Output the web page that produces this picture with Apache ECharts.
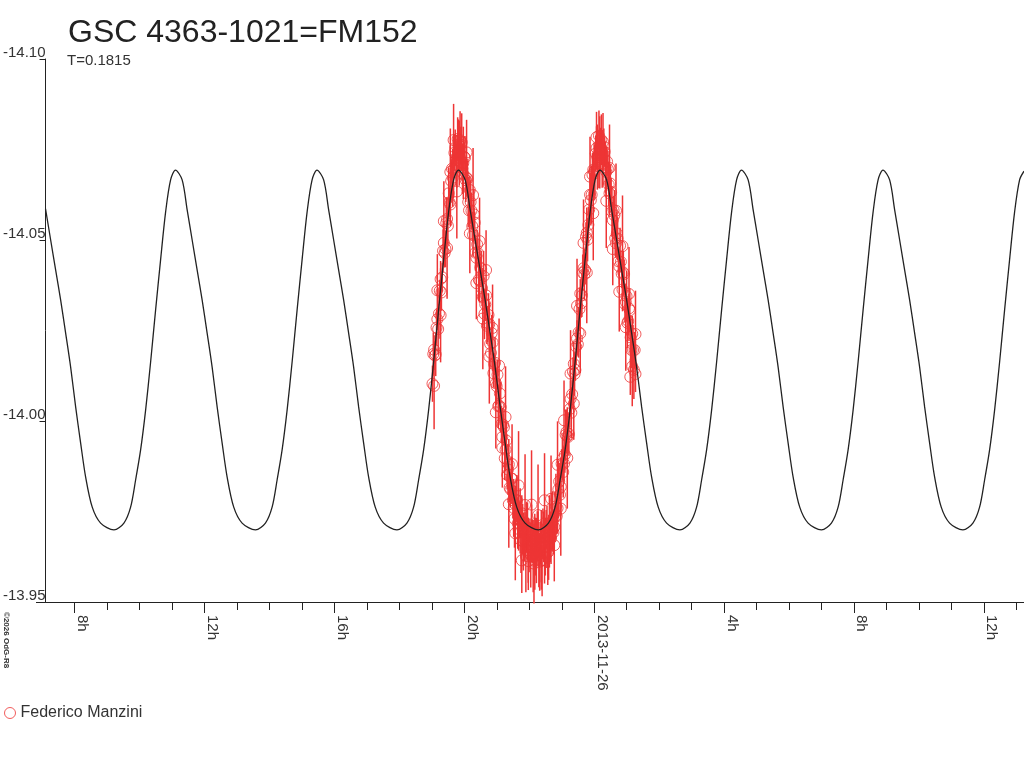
<!DOCTYPE html>
<html lang="en">
<head>
<meta charset="UTF-8">
<title>GSC 4363-1021=FM152</title>
<script type="text/javascript" src="https://cdn.jsdelivr.net/npm/echarts@6.0.0/dist/echarts.min.js"></script>
<style>html,body{margin:0;padding:0;background:#fff;}</style>
</head>
<body>
<div id="lightCurve" style="width:1024px;height:768px;background:#fff;"></div>

<script type="text/javascript">
    // time is in hours counted from 2013-11-25 00:00
    var hourMin = 7.108, hourMax = 37.23;
    var magMin = -14.10, magMax = -13.95, magStep = 0.05;
    var hourTicks = [8, 9, 10, 11, 12, 13, 14, 15, 16, 17, 18, 19, 20, 21, 22, 23, 24,
        25, 26, 27, 28, 29, 30, 31, 32, 33, 34, 35, 36, 37];
    var labelHours = [8, 12, 16, 20, 24, 28, 32, 36];
    var dayLabel = '2013-11-26';
    var observer = 'Federico Manzini';

    // fitted light curve, one row per cycle
    var fitHours = [
        7.108, 7.266, 7.420, 7.574, 7.727, 7.881, 8.035, 8.189, 8.343, 8.546, 8.804, 9.214,
        9.521, 9.727, 9.881, 10.035, 10.189, 10.343, 10.497, 10.650, 10.804, 10.958,
        11.108, 11.314, 11.468, 11.622, 11.776, 11.930, 12.083, 12.237, 12.391, 12.545, 12.699, 12.902,
        13.160, 13.570, 13.877, 14.083, 14.237, 14.391, 14.545, 14.699, 14.853, 15.006, 15.160, 15.314,
        15.464, 15.670, 15.824, 15.978, 16.132, 16.286, 16.439, 16.593, 16.747, 16.901, 17.055, 17.258,
        17.516, 17.926, 18.233, 18.439, 18.593, 18.747, 18.901, 19.055, 19.209, 19.362, 19.516, 19.670,
        19.820, 20.026, 20.180, 20.334, 20.488, 20.642, 20.795, 20.949, 21.103, 21.257, 21.411, 21.614,
        21.872, 22.282, 22.589, 22.795, 22.949, 23.103, 23.257, 23.411, 23.565, 23.718, 23.872, 24.026,
        24.176, 24.382, 24.536, 24.690, 24.844, 24.998, 25.151, 25.305, 25.459, 25.613, 25.767, 25.970,
        26.228, 26.638, 26.945, 27.151, 27.305, 27.459, 27.613, 27.767, 27.921, 28.074, 28.228, 28.382,
        28.532, 28.738, 28.892, 29.046, 29.200, 29.354, 29.507, 29.661, 29.815, 29.969, 30.123, 30.326,
        30.584, 30.994, 31.301, 31.507, 31.661, 31.815, 31.969, 32.123, 32.277, 32.430, 32.584, 32.738,
        32.888, 33.094, 33.248, 33.402, 33.556, 33.710, 33.863, 34.017, 34.171, 34.325, 34.479, 34.682,
        34.940, 35.350, 35.657, 35.863, 36.017, 36.171, 36.325, 36.479, 36.633, 36.786, 36.940, 37.094,
        37.230
    ];
    var fitMags = [
        -14.0586, -14.0500, -14.0417, -14.0334, -14.0243, -14.0149, -14.0039, -13.9939, -13.9845, -13.9762, -13.9718, -13.9699,
        -13.9718, -13.9762, -13.9837, -13.9920, -14.0030, -14.0163, -14.0307, -14.0445, -14.0577, -14.0666,
        -14.0693, -14.0666, -14.0583, -14.0500, -14.0417, -14.0334, -14.0243, -14.0149, -14.0039, -13.9939, -13.9845, -13.9762,
        -13.9718, -13.9699, -13.9718, -13.9762, -13.9837, -13.9920, -14.0030, -14.0163, -14.0307, -14.0445, -14.0577, -14.0666,
        -14.0693, -14.0666, -14.0583, -14.0500, -14.0417, -14.0334, -14.0243, -14.0149, -14.0039, -13.9939, -13.9845, -13.9762,
        -13.9718, -13.9699, -13.9718, -13.9762, -13.9837, -13.9920, -14.0030, -14.0163, -14.0307, -14.0445, -14.0577, -14.0666,
        -14.0693, -14.0666, -14.0583, -14.0500, -14.0417, -14.0334, -14.0243, -14.0149, -14.0039, -13.9939, -13.9845, -13.9762,
        -13.9718, -13.9699, -13.9718, -13.9762, -13.9837, -13.9920, -14.0030, -14.0163, -14.0307, -14.0445, -14.0577, -14.0666,
        -14.0693, -14.0666, -14.0583, -14.0500, -14.0417, -14.0334, -14.0243, -14.0149, -14.0039, -13.9939, -13.9845, -13.9762,
        -13.9718, -13.9699, -13.9718, -13.9762, -13.9837, -13.9920, -14.0030, -14.0163, -14.0307, -14.0445, -14.0577, -14.0666,
        -14.0693, -14.0666, -14.0583, -14.0500, -14.0417, -14.0334, -14.0243, -14.0149, -14.0039, -13.9939, -13.9845, -13.9762,
        -13.9718, -13.9699, -13.9718, -13.9762, -13.9837, -13.9920, -14.0030, -14.0163, -14.0307, -14.0445, -14.0577, -14.0666,
        -14.0693, -14.0666, -14.0583, -14.0500, -14.0417, -14.0334, -14.0243, -14.0149, -14.0039, -13.9939, -13.9845, -13.9762,
        -13.9718, -13.9699, -13.9718, -13.9762, -13.9837, -13.9920, -14.0030, -14.0163, -14.0307, -14.0445, -14.0577, -14.0666,
        -14.0690
    ];

    // measurements, [hour, mag, error]
    var observations = [
        [19.02, -14.0103, 0.005], [19.07, -14.0197, 0.004], [19.12, -14.0184, 0.006], [19.17, -14.0281, 0.003],
        [19.22, -14.0297, 0.007], [19.27, -14.0392, 0.005], [19.32, -14.0397, 0.004], [19.37, -14.0492, 0.006],
        [19.42, -14.0475, 0.005], [19.47, -14.0558, 0.003], [19.52, -14.0629, 0.007], [19.57, -14.0598, 0.006],
        [19.62, -14.0697, 0.004], [19.67, -14.0696, 0.008], [19.72, -14.0755, 0.005], [19.77, -14.0704, 0.006],
        [19.82, -14.0763, 0.007], [19.87, -14.0726, 0.005], [19.92, -14.0770, 0.008], [19.97, -14.0683, 0.004],
        [20.02, -14.0727, 0.006], [20.07, -14.0672, 0.005], [20.12, -14.0605, 0.007], [20.17, -14.0638, 0.004],
        [20.22, -14.0581, 0.005], [20.27, -14.0514, 0.006], [20.32, -14.0548, 0.003], [20.37, -14.0451, 0.005],
        [20.42, -14.0464, 0.004], [20.47, -14.0387, 0.006], [20.52, -14.0420, 0.005], [20.57, -14.0343, 0.004],
        [20.62, -14.0296, 0.007], [20.67, -14.0347, 0.003], [20.72, -14.0268, 0.005], [20.77, -14.0268, 0.006],
        [20.82, -14.0188, 0.004], [20.87, -14.0217, 0.005], [20.92, -14.0157, 0.003], [20.97, -14.0104, 0.006],
        [21.02, -14.0128, 0.004], [21.07, -14.0043, 0.005], [21.12, -14.0038, 0.007], [21.17, -13.9956, 0.004],
        [21.22, -13.9983, 0.005], [21.27, -13.9921, 0.006], [21.32, -13.9851, 0.004], [21.37, -13.9880, 0.007],
        [21.42, -13.9811, 0.005], [21.47, -13.9841, 0.006], [21.52, -13.9760, 0.008], [21.57, -13.9770, 0.005],
        [21.62, -13.9781, 0.007], [21.67, -13.9702, 0.006], [21.72, -13.9724, 0.009], [21.77, -13.9745, 0.005],
        [21.82, -13.9667, 0.008], [21.87, -13.9688, 0.006], [21.92, -13.9706, 0.007], [21.97, -13.9643, 0.009],
        [22.02, -13.9671, 0.006], [22.07, -13.9689, 0.008], [22.12, -13.9627, 0.010], [22.17, -13.9674, 0.007],
        [22.22, -13.9642, 0.009], [22.27, -13.9690, 0.006], [22.32, -13.9611, 0.008], [22.37, -13.9654, 0.010],
        [22.42, -13.9688, 0.007], [22.47, -13.9641, 0.009], [22.52, -13.9674, 0.008], [22.57, -13.9637, 0.006],
        [22.62, -13.9695, 0.010], [22.67, -13.9675, 0.007], [22.72, -13.9726, 0.008], [22.77, -13.9707, 0.006],
        [22.82, -13.9764, 0.009], [22.87, -13.9759, 0.007], [22.92, -13.9833, 0.005], [22.97, -13.9818, 0.008],
        [23.02, -13.9895, 0.006], [23.07, -13.9882, 0.005], [23.12, -13.9962, 0.007], [23.17, -13.9958, 0.004],
        [23.22, -13.9964, 0.006], [23.27, -14.0061, 0.005], [23.32, -14.0074, 0.004], [23.37, -14.0158, 0.006],
        [23.42, -14.0141, 0.003], [23.47, -14.0228, 0.005], [23.52, -14.0245, 0.007], [23.57, -14.0352, 0.004],
        [23.62, -14.0347, 0.006], [23.67, -14.0422, 0.005], [23.72, -14.0417, 0.004], [23.77, -14.0520, 0.007],
        [23.82, -14.0542, 0.005], [23.87, -14.0625, 0.006], [23.92, -14.0625, 0.008], [23.97, -14.0694, 0.005],
        [24.02, -14.0693, 0.007], [24.07, -14.0754, 0.006], [24.12, -14.0723, 0.008], [24.17, -14.0752, 0.005],
        [24.22, -14.0777, 0.007], [24.27, -14.0711, 0.006], [24.32, -14.0744, 0.004], [24.37, -14.0688, 0.007],
        [24.42, -14.0696, 0.005], [24.47, -14.0629, 0.006], [24.52, -14.0632, 0.004], [24.57, -14.0555, 0.005],
        [24.62, -14.0568, 0.007], [24.67, -14.0491, 0.004], [24.72, -14.0504, 0.006], [24.77, -14.0427, 0.005],
        [24.82, -14.0440, 0.003], [24.87, -14.0363, 0.006], [24.92, -14.0406, 0.004], [24.97, -14.0329, 0.005],
        [25.02, -14.0271, 0.007], [25.07, -14.0311, 0.004], [25.11, -14.0122, 0.005], [25.12, -14.0231, 0.006],
        [25.17, -14.0241, 0.005], [25.22, -14.0141, 0.008], [25.27, -14.0130, 0.005],
        [19.045, -14.0185, 0.006], [19.095, -14.0181, 0.004], [19.145, -14.0258, 0.005], [19.195, -14.0254, 0.007],
        [19.245, -14.0360, 0.003], [19.295, -14.0355, 0.005], [19.345, -14.0470, 0.006], [19.395, -14.0464, 0.004],
        [19.445, -14.0547, 0.007], [19.495, -14.0539, 0.005], [19.545, -14.0604, 0.004], [19.595, -14.0663, 0.006],
        [19.645, -14.0672, 0.008], [19.695, -14.0741, 0.005], [19.745, -14.0720, 0.007], [19.795, -14.0779, 0.006],
        [19.845, -14.0740, 0.009], [19.895, -14.0763, 0.005], [19.945, -14.0697, 0.007], [19.995, -14.0730, 0.004],
        [20.045, -14.0665, 0.006], [20.095, -14.0669, 0.005], [20.145, -14.0582, 0.003], [20.195, -14.0605, 0.006],
        [20.245, -14.0538, 0.004], [20.295, -14.0571, 0.007], [20.345, -14.0465, 0.005], [20.395, -14.0488, 0.004],
        [20.445, -14.0391, 0.006], [20.495, -14.0424, 0.003], [20.545, -14.0367, 0.005], [20.595, -14.0400, 0.007],
        [20.645, -14.0322, 0.004], [20.695, -14.0263, 0.005], [20.745, -14.0293, 0.006], [20.795, -14.0213, 0.003],
        [20.845, -14.0243, 0.005], [20.895, -14.0132, 0.004], [20.945, -14.0161, 0.007], [20.995, -14.0096, 0.005],
        [21.045, -14.0041, 0.006], [21.095, -14.0076, 0.004], [21.145, -13.9992, 0.005], [21.195, -13.9990, 0.003],
        [21.245, -13.9897, 0.006], [21.295, -13.9946, 0.005], [21.345, -13.9866, 0.007], [21.395, -13.9816, 0.004],
        [21.445, -13.9841, 0.006], [21.495, -13.9781, 0.005], [21.545, -13.9730, 0.008], [21.595, -13.9781, 0.006],
        [21.645, -13.9717, 0.007], [21.695, -13.9728, 0.005], [21.745, -13.9670, 0.009], [21.795, -13.9701, 0.007],
        [21.845, -13.9673, 0.006], [21.895, -13.9627, 0.010], [21.945, -13.9695, 0.008], [21.995, -13.9652, 0.007],
        [22.045, -13.9630, 0.009], [22.095, -13.9668, 0.006], [22.145, -13.9606, 0.011], [22.195, -13.9653, 0.008],
        [22.245, -13.9681, 0.007], [22.295, -13.9631, 0.009], [22.345, -13.9663, 0.006], [22.395, -13.9616, 0.010],
        [22.445, -13.9680, 0.007], [22.495, -13.9653, 0.008], [22.545, -13.9706, 0.006], [22.595, -13.9651, 0.009],
        [22.645, -13.9680, 0.007], [22.695, -13.9721, 0.008], [22.745, -13.9692, 0.006], [22.795, -13.9736, 0.007],
        [22.845, -13.9737, 0.005], [22.895, -13.9811, 0.008], [22.945, -13.9796, 0.006], [22.995, -13.9882, 0.004],
        [23.045, -13.9859, 0.007], [23.095, -13.9907, 0.005], [23.145, -13.9970, 0.006], [23.195, -13.9956, 0.004],
        [23.245, -14.0033, 0.005], [23.295, -14.0023, 0.007], [23.345, -14.0136, 0.004], [23.395, -14.0130, 0.006],
        [23.445, -14.0205, 0.005], [23.495, -14.0212, 0.003], [23.545, -14.0309, 0.006], [23.595, -14.0325, 0.004],
        [23.645, -14.0410, 0.005], [23.695, -14.0405, 0.007], [23.745, -14.0509, 0.004], [23.795, -14.0501, 0.006],
        [23.845, -14.0584, 0.005], [23.895, -14.0610, 0.007], [23.945, -14.0680, 0.006], [23.995, -14.0689, 0.008],
        [24.045, -14.0739, 0.005], [24.095, -14.0729, 0.009], [24.145, -14.0788, 0.007], [24.195, -14.0750, 0.006],
        [24.245, -14.0724, 0.008], [24.295, -14.0758, 0.005], [24.345, -14.0701, 0.007], [24.395, -14.0717, 0.004],
        [24.445, -14.0653, 0.006], [24.495, -14.0656, 0.005], [24.545, -14.0579, 0.007], [24.595, -14.0582, 0.004],
        [24.645, -14.0505, 0.005], [24.695, -14.0518, 0.006], [24.745, -14.0441, 0.003], [24.795, -14.0484, 0.005],
        [24.845, -14.0407, 0.004], [24.895, -14.0410, 0.006], [24.945, -14.0323, 0.005], [24.995, -14.0345, 0.007],
        [25.045, -14.0276, 0.004], [25.095, -14.0306, 0.006], [25.145, -14.0196, 0.005], [25.195, -14.0196, 0.007],
        [25.245, -14.0196, 0.005],
        [19.07, -14.0097, 0.012], [19.17, -14.0361, 0.010], [19.27, -14.0292, 0.013], [19.37, -14.0552, 0.011],
        [19.47, -14.0478, 0.014], [19.57, -14.0688, 0.012], [19.67, -14.0776, 0.010], [19.77, -14.0634, 0.013],
        [19.87, -14.0776, 0.008], [19.97, -14.0713, 0.010], [20.07, -14.0742, 0.009], [20.17, -14.0518, 0.011],
        [20.27, -14.0624, 0.013], [20.37, -14.0381, 0.010], [20.47, -14.0497, 0.012], [20.57, -14.0283, 0.014],
        [20.67, -14.0417, 0.011], [20.77, -14.0178, 0.013], [20.87, -14.0257, 0.012], [20.97, -14.0024, 0.010],
        [21.07, -14.0153, 0.013], [21.17, -13.9926, 0.011], [21.27, -14.0011, 0.014], [21.37, -13.9770, 0.012],
        [21.47, -13.9881, 0.011], [21.57, -13.9690, 0.013], [21.67, -13.9822, 0.015], [21.77, -13.9615, 0.009],
        [21.87, -13.9768, 0.014], [21.97, -13.9613, 0.008], [22.07, -13.9769, 0.015], [22.17, -13.9614, 0.008],
        [22.27, -13.9740, 0.014], [22.37, -13.9614, 0.008], [22.47, -13.9781, 0.013], [22.57, -13.9637, 0.009],
        [22.67, -13.9785, 0.012], [22.77, -13.9657, 0.010], [22.87, -13.9879, 0.012], [22.97, -13.9758, 0.013],
        [23.07, -14.0002, 0.011], [23.17, -13.9898, 0.014], [23.27, -14.0131, 0.012], [23.37, -14.0048, 0.010],
        [23.47, -14.0318, 0.013], [23.57, -14.0242, 0.011], [23.67, -14.0492, 0.012], [23.77, -14.0410, 0.014],
        [23.87, -14.0675, 0.011], [23.97, -14.0574, 0.013], [24.07, -14.0784, 0.007], [24.17, -14.0742, 0.010],
        [24.27, -14.0771, 0.008], [24.37, -14.0608, 0.013], [24.47, -14.0699, 0.012], [24.57, -14.0475, 0.010],
        [24.67, -14.0581, 0.013], [24.77, -14.0357, 0.011], [24.87, -14.0483, 0.014], [24.97, -14.0259, 0.012],
        [25.07, -14.0351, 0.013], [25.17, -14.0151, 0.011], [25.27, -14.0240, 0.012]
    ];

    var fitCurve = [];
    for (var i = 0; i < fitHours.length; i++) {
        fitCurve.push([fitHours[i], fitMags[i]]);
    }

    var red = '#ee3535';
    var chart = echarts.init(document.getElementById('lightCurve'));

    var hourLabel = function (v) {
        var h = Math.round(v) % 24;
        return h === 0 ? dayLabel : h + 'h';
    };

    var option = {
        animation: false,
        backgroundColor: '#fff',
        textStyle: {fontFamily: 'Liberation Sans, Arial, sans-serif'},
        title: [
            {text: 'GSC 4363-1021=FM152', left: 63, top: 12,
                textStyle: {fontSize: 32, fontWeight: 'normal', color: '#222'}},
            {text: 'T=0.1815', left: 62, top: 48,
                textStyle: {fontSize: 15, fontWeight: 'normal', color: '#333'}}
        ],
        legend: {
            data: [observer],
            left: 4, top: 705, padding: 0,
            icon: 'circle', itemWidth: 11, itemHeight: 11,
            itemStyle: {borderWidth: 1},
            textStyle: {fontSize: 16, color: '#333'}
        },
        grid: {left: 45, right: 0, top: 59, bottom: 166, containLabel: false},
        xAxis: [
            {
                type: 'value', min: hourMin, max: hourMax, position: 'bottom',
                axisLine: {lineStyle: {color: '#222', width: 1}},
                axisTick: {customValues: hourTicks, length: 8, lineStyle: {color: '#222'}},
                axisLabel: {customValues: labelHours, formatter: hourLabel, rotate: -90,
                    align: 'left', verticalAlign: 'bottom', margin: 13,
                    fontSize: 15, color: '#333'},
                splitLine: {show: false}
            },
            {
                // longer ticks every 4 hours
                type: 'value', min: hourMin, max: hourMax, position: 'bottom',
                axisLine: {show: false},
                axisTick: {customValues: labelHours, length: 11, lineStyle: {color: '#222'}},
                axisLabel: {show: false},
                splitLine: {show: false}
            }
        ],
        yAxis: {
            type: 'value', inverse: true, min: magMin, max: magMax, interval: magStep,
            axisLine: {show: true, lineStyle: {color: '#222', width: 1}},
            axisTick: {show: true, length: 6, lineStyle: {color: '#222'}},
            axisLabel: {formatter: function (v) { return v.toFixed(2); },
                margin: 0, verticalAlign: 'bottom', lineHeight: 12, fontSize: 15, color: '#333'},
            splitLine: {show: false}
        },
        graphic: [
            {type: 'text', x: 2, y: 612, rotation: -Math.PI / 2,
                style: {text: '\u00a92026 OdG-R8', fill: '#333', textVerticalAlign: 'bottom',
                    font: 'bold 8px Liberation Sans'}},
            {type: 'line', shape: {x1: 36, y1: 602.5, x2: 45, y2: 602.5},
                style: {stroke: '#222', lineWidth: 1}}
        ],
        series: [
            {
                name: 'errors',
                type: 'custom',
                data: observations,
                z: 1,
                renderItem: function (params, api) {
                    var t = api.value(0), m = api.value(1), e = api.value(2);
                    var p0 = api.coord([t, m - e]);
                    var p1 = api.coord([t, m + e]);
                    return {
                        type: 'line',
                        shape: {x1: p0[0], y1: p0[1], x2: p1[0], y2: p1[1]},
                        style: {stroke: red, lineWidth: 1.5}
                    };
                },
                encode: {x: 0, y: 1},
                silent: true
            },
            {
                name: observer,
                type: 'scatter',
                data: observations,
                symbol: 'circle',
                symbolSize: 11,
                z: 2,
                itemStyle: {color: 'rgba(255,255,255,0)', borderColor: red, borderWidth: 1}
            },
            {
                name: 'fit',
                type: 'line',
                data: fitCurve,
                showSymbol: false,
                smooth: 0.3,
                z: 3,
                lineStyle: {color: '#222', width: 1.3}
            }
        ]
    };

    chart.setOption(option);
</script>
</body>
</html>
